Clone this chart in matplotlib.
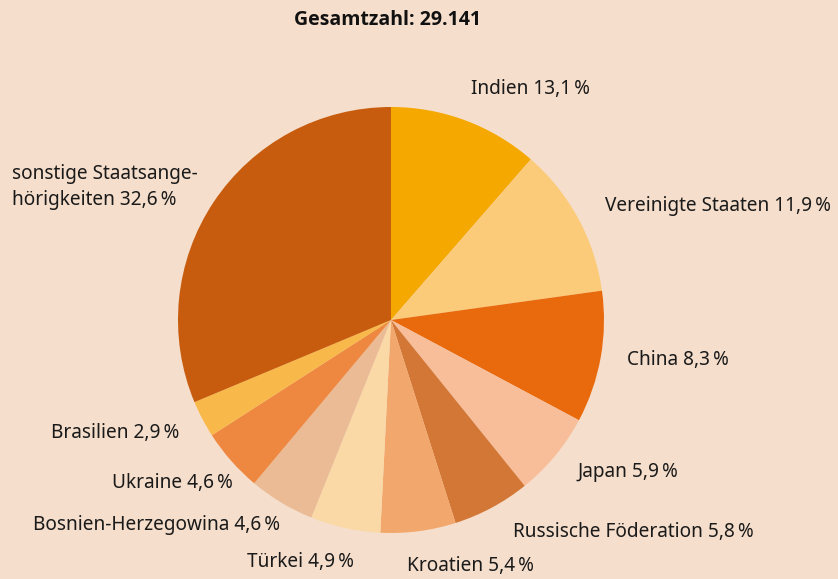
import matplotlib
matplotlib.use("Agg")
import matplotlib.pyplot as plt

plt.rcParams['font.family'] = ['Noto Sans', 'DejaVu Sans']

categories = ["Indien", "Vereinigte Staaten", "China", "Japan", "Russische Föderation",
              "Kroatien", "Türkei", "Bosnien-Herzegowina", "Ukraine", "Brasilien",
              "sonstige Staatsange-\nhörigkeiten"]
# percentages as printed in the labels
values = [13.1, 11.9, 8.3, 5.9, 5.8, 5.4, 4.9, 4.6, 4.6, 2.9, 32.6]
# wedge sizes as drawn in the picture (measured angles, in %)
shares = [11.4, 11.4, 10.0, 6.4, 5.9, 5.7, 5.3, 5.0, 4.8, 2.8, 31.3]
colors = ["#F5A800", "#FBCB7A", "#E96A0C", "#F8BE9A", "#D27736", "#F2A86C",
          "#FAD9A6", "#EABB95", "#EE8840", "#F8B94A", "#C75C0E"]
title = "Gesamtzahl: 29.141"
bg = "#F5DECB"

W, H = 838, 579
fig = plt.figure(figsize=(W / 100, H / 100), dpi=100, facecolor=bg)

cx, cy, r = 391, 320, 213
ax = fig.add_axes([(cx - r) / W, (H - cy - r) / H, 2 * r / W, 2 * r / H])
ax.set_facecolor(bg)
ax.pie(shares, colors=colors, startangle=90, counterclock=False, radius=1.0,
       wedgeprops=dict(linewidth=0))
ax.set_xlim(-1, 1)
ax.set_ylim(-1, 1)
ax.set_aspect('equal')
ax.axis('off')

# label anchor positions in pixels (x, y from top, ha)
label_pos = [(471, 89, 'left'), (605, 206, 'left'), (627, 360, 'left'),
             (577, 472, 'left'), (513, 532, 'left'), (407, 566, 'left'),
             (354, 562, 'right'), (280, 525, 'right'), (233, 483, 'right'),
             (179, 433, 'right'), (12, 187, 'left')]

def fmt(v):
    return f"{v:.1f}".replace('.', ',') + "\u2009%"

for cat, v, (x, y, ha) in zip(categories, values, label_pos):
    fig.text(x / W, 1 - y / H, f"{cat} {fmt(v)}", ha=ha, va='center',
             fontsize=13.7, color='#1a1a1a', linespacing=1.35)

fig.text(387 / W, 1 - 20 / H, title, ha='center', va='center', fontsize=14,
         fontweight='bold', family=['Open Sans', 'Lato', 'DejaVu Sans'],
         color='#111111')

fig.savefig("out.png", dpi=100, facecolor=bg)
